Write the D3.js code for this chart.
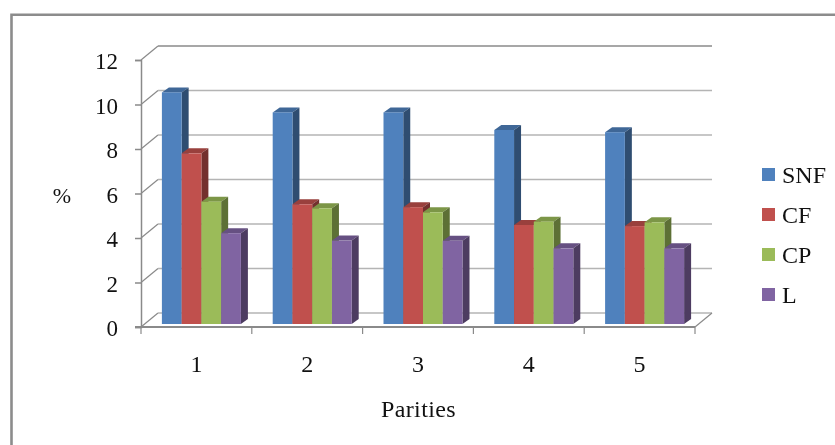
<!DOCTYPE html>
<html>
<head>
<meta charset="utf-8">
<script src="https://cdnjs.cloudflare.com/ajax/libs/d3/7.8.5/d3.min.js"></script>
<style>
  html, body { margin: 0; padding: 0; background: #fff; }
  svg { display: block; filter: blur(0.5px); }
  text { font-family: "Liberation Serif", serif; fill: #111; }
</style>
</head>
<body>
<svg id="chart"></svg>
<script>
var parities = ["1", "2", "3", "4", "5"];
var seriesNames = ["SNF", "CF", "CP", "L"];
var snf = [10.41, 9.51, 9.51, 8.72, 8.62];
var cf = [7.67, 5.38, 5.25, 4.45, 4.4];
var cp = [5.5, 5.2, 5.02, 4.6, 4.57];
var lactose = [4.08, 3.75, 3.74, 3.4, 3.4];
var yTicks = [0, 2, 4, 6, 8, 10, 12];

var seriesValues = [snf, cf, cp, lactose];
var faceColors = ["#4f81bd", "#c0504d", "#9bbb59", "#8064a2"];
var topColors = ["#3f6797", "#99403d", "#7c9647", "#665082"];
var sideColors = ["#2f4d71", "#73302e", "#5d7035", "#4d3c61"];

var svgWidth = 835, svgHeight = 445;
var wallDx = 17, wallDy = -14;   // how far the back wall sits from the front axis
var barDx = 7, barDy = -5;       // bar depth
var barShiftX = 5, barShiftY = -3;

var svg = d3.select("#chart")
  .attr("width", svgWidth)
  .attr("height", svgHeight);

// outer frame, only the top and left edges are in the crop
svg.append("path")
  .attr("d", "M11.5,445V14.7H835")
  .attr("fill", "none")
  .attr("stroke", "#8c8c8c")
  .attr("stroke-width", 2.6);

var xScale = d3.scaleBand()
  .domain(parities)
  .range([141, 695])
  .paddingInner(0.287)
  .paddingOuter(0.1435);

var xInner = d3.scaleBand()
  .domain(seriesNames)
  .range([0, xScale.bandwidth()]);

var yScale = d3.scaleLinear()
  .domain([0, 12])
  .range([327, 60]);

var xEdges = d3.scalePoint()
  .domain(d3.range(parities.length + 1))
  .range([141, 695]);

// back wall gridlines and the slanted bits on the side wall
var grid = svg.append("g");
yTicks.forEach(function (t) {
  var y = yScale(t);
  grid.append("line")
    .attr("x1", 141).attr("y1", y)
    .attr("x2", 141 + wallDx).attr("y2", y + wallDy)
    .attr("stroke", "#8a8a8a").attr("stroke-width", 1.2);
  grid.append("line")
    .attr("x1", 141 + wallDx).attr("y1", y + wallDy)
    .attr("x2", 695 + wallDx).attr("y2", y + wallDy)
    .attr("stroke", t == 12 ? "#8a8a8a" : "#b4b4b4").attr("stroke-width", 1.5);
});

// floor edges
grid.append("line")
  .attr("x1", 695).attr("y1", yScale(0))
  .attr("x2", 695 + wallDx).attr("y2", yScale(0) + wallDy)
  .attr("stroke", "#8a8a8a").attr("stroke-width", 1.2);

// bars, one group per parity
parities.forEach(function (p, i) {
  var g = svg.append("g")
    .attr("transform", "translate(" + (xScale(p) + barShiftX) + "," + barShiftY + ")");

  // drawn back to front so each bar covers the side of the one before it
  seriesNames.forEach(function (name, s) {
    var x = xInner(name);
    var w = xInner.bandwidth();
    var y = yScale(seriesValues[s][i]);
    var y0 = yScale(0);

    g.append("polygon")
      .attr("points", [[x, y], [x + barDx, y + barDy], [x + w + barDx, y + barDy], [x + w, y]].join(" "))
      .attr("fill", topColors[s]);
    g.append("polygon")
      .attr("points", [[x + w, y], [x + w + barDx, y + barDy], [x + w + barDx, y0 + barDy], [x + w, y0]].join(" "))
      .attr("fill", sideColors[s]);
    g.append("rect")
      .attr("x", x)
      .attr("y", y)
      .attr("width", w)
      .attr("height", y0 - y)
      .attr("fill", faceColors[s]);
  });
});

// front axes
var yAxis = d3.axisLeft(yScale)
  .tickValues(yTicks)
  .tickSize(6)
  .tickPadding(17);

var yAxisG = svg.append("g")
  .attr("transform", "translate(141,0)")
  .call(yAxis);
yAxisG.selectAll("path, line").attr("stroke", "#8a8a8a").attr("stroke-width", 1.5);
yAxisG.selectAll("text")
  .style("font-size", "23px")
  .attr("font-family", "Liberation Serif")
  .attr("fill", "#111")
  .attr("dy", "0.39em");

var xAxisG = svg.append("g")
  .attr("transform", "translate(0,327)");
xAxisG.append("line")
  .attr("x1", 135).attr("x2", 695)
  .attr("stroke", "#8a8a8a").attr("stroke-width", 1.8);
xAxisG.selectAll("line.tick")
  .data(xEdges.domain())
  .enter()
  .append("line")
  .attr("class", "tick")
  .attr("x1", function (d) { return xEdges(d); })
  .attr("x2", function (d) { return xEdges(d); })
  .attr("y1", 0)
  .attr("y2", 7)
  .attr("stroke", "#8a8a8a")
  .attr("stroke-width", 1.2);
xAxisG.selectAll("text")
  .data(parities)
  .enter()
  .append("text")
  .attr("x", function (d, i) { return (xEdges(i) + xEdges(i + 1)) / 2; })
  .attr("y", 45)
  .attr("text-anchor", "middle")
  .style("font-size", "24px")
  .text(function (d) { return d; });

// axis titles
svg.append("text")
  .attr("x", 62).attr("y", 203)
  .attr("text-anchor", "middle")
  .style("font-size", "22px")
  .text("%");
svg.append("text")
  .attr("x", 418.5).attr("y", 417)
  .attr("text-anchor", "middle")
  .style("font-size", "24px")
  .style("letter-spacing", "0.4px")
  .text("Parities");

// legend
var legendY = d3.scalePoint()
  .domain(seriesNames)
  .range([174.5, 294.5]);

var legend = svg.selectAll("g.legend")
  .data(seriesNames)
  .enter()
  .append("g")
  .attr("class", "legend")
  .attr("transform", function (d) { return "translate(762," + legendY(d) + ")"; });
legend.append("rect")
  .attr("x", 0).attr("y", -6.5)
  .attr("width", 13).attr("height", 13)
  .attr("fill", function (d, i) { return faceColors[i]; });
legend.append("text")
  .attr("x", 20).attr("y", 8)
  .style("font-size", "24px")
  .text(function (d) { return d; });
</script>
</body>
</html>
